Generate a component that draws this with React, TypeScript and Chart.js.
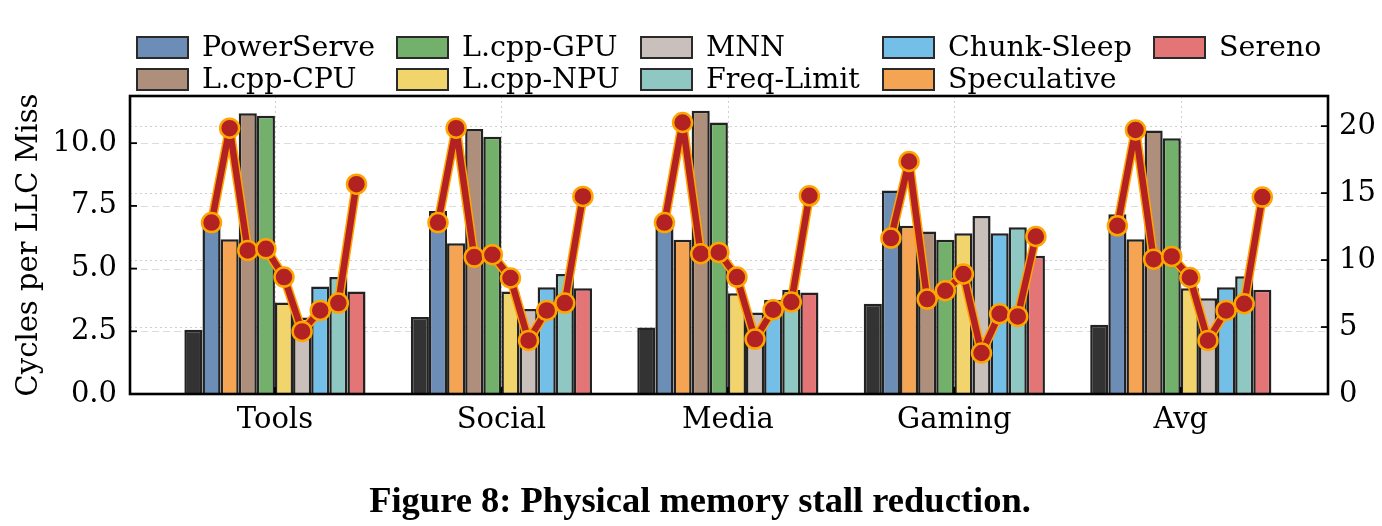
import React, { useEffect, useRef } from "react";
import { Chart, registerables } from "chart.js";

Chart.register(...registerables);

const categories = ["Tools", "Social", "Media", "Gaming", "Avg"];

const methods = [
  "Baseline",
  "PowerServe",
  "Speculative",
  "L.cpp-CPU",
  "L.cpp-GPU",
  "L.cpp-NPU",
  "MNN",
  "Chunk-Sleep",
  "Freq-Limit",
  "Sereno",
];

const methodColors = [
  "#333333",
  "#6b8db6",
  "#f4a452",
  "#ae8f7c",
  "#73b06b",
  "#f2d46c",
  "#c9c0bb",
  "#74bfe8",
  "#8fc7c3",
  "#e47577",
];

// Cycles per LLC miss (left axis), one array per method across categories
const baseline = [2.56, 3.07, 2.65, 3.6, 2.76];
const powerServe = [6.8, 7.3, 6.8, 8.11, 7.17];
const speculative = [6.17, 6.01, 6.15, 6.71, 6.17];
const lcppCpu = [11.19, 10.56, 11.29, 6.48, 10.5];
const lcppGpu = [11.09, 10.26, 10.82, 6.15, 10.2];
const lcppNpu = [3.65, 4.09, 4.02, 6.41, 4.22];
const mnn = [3.05, 3.39, 3.25, 7.1, 3.82];
const chunkSleep = [4.29, 4.26, 3.76, 6.41, 4.26];
const freqLimit = [4.66, 4.78, 4.16, 6.65, 4.69];
const sereno = [4.09, 4.22, 4.05, 5.51, 4.16];

const barSeries = [
  baseline,
  powerServe,
  speculative,
  lcppCpu,
  lcppGpu,
  lcppNpu,
  mnn,
  chunkSleep,
  freqLimit,
  sereno,
];

// Right-axis line, per category, over methods PowerServe .. Sereno
const toolsLine = [12.8, 19.85, 10.72, 10.84, 8.73, 4.67, 6.24, 6.79, 15.67];
const socialLine = [12.8, 19.85, 10.22, 10.4, 8.66, 4.0, 6.24, 6.79, 14.75];
const mediaLine = [12.8, 20.27, 10.47, 10.57, 8.73, 4.1, 6.29, 6.87, 14.8];
const gamingLine = [11.64, 17.36, 7.09, 7.71, 8.96, 3.06, 5.99, 5.79, 11.76];
const avgLine = [12.56, 19.72, 10.07, 10.27, 8.7, 4.0, 6.24, 6.74, 14.7];

const lineSeries = [toolsLine, socialLine, mediaLine, gamingLine, avgLine];

const leftTicksMax = 11.88;
const rightTicksMax = 22.25;
const xMin = -0.64;
const xMax = 4.65;

const legendOrder = [
  "PowerServe",
  "L.cpp-CPU",
  "L.cpp-GPU",
  "L.cpp-NPU",
  "MNN",
  "Freq-Limit",
  "Chunk-Sleep",
  "Speculative",
  "Sereno",
];

const FONT = "'DejaVu Serif', serif";
const CAT_PCT = 0.8;
const TICK_SIZE = 29;

const framePlugin = {
  id: "frameAndGrid",
  beforeDatasetsDraw(chart: any) {
    const { ctx, chartArea: a, scales } = chart;
    ctx.save();
    ctx.lineWidth = 1;
    ctx.strokeStyle = "#dcdcdc";
    ctx.setLineDash([7, 4]);
    scales.y.ticks.forEach((t: any) => {
      if (t.value === 0) return;
      const yy = Math.round(scales.y.getPixelForValue(t.value)) + 0.5;
      ctx.beginPath();
      ctx.moveTo(a.left, yy);
      ctx.lineTo(a.right, yy);
      ctx.stroke();
    });
    ctx.strokeStyle = "#cfcfcf";
    ctx.setLineDash([2, 3]);
    scales.y2.ticks.forEach((t: any) => {
      if (t.value === 0) return;
      const yy = Math.round(scales.y2.getPixelForValue(t.value)) + 0.5;
      ctx.beginPath();
      ctx.moveTo(a.left, yy);
      ctx.lineTo(a.right, yy);
      ctx.stroke();
    });
    scales.x.ticks.forEach((t: any) => {
      const xx = Math.round(scales.x.getPixelForValue(t.value)) + 0.5;
      ctx.beginPath();
      ctx.moveTo(xx, a.top);
      ctx.lineTo(xx, a.bottom);
      ctx.stroke();
    });
    ctx.restore();
  },
  afterDatasetsDraw(chart: any) {
    const { ctx, chartArea: a, scales } = chart;
    ctx.save();
    ctx.strokeStyle = "#000";
    ctx.lineWidth = 1.8;
    const L = 7;
    scales.y.ticks.forEach((t: any) => {
      const yy = scales.y.getPixelForValue(t.value);
      ctx.beginPath();
      ctx.moveTo(a.left, yy);
      ctx.lineTo(a.left + L, yy);
      ctx.stroke();
    });
    scales.y2.ticks.forEach((t: any) => {
      const yy = scales.y2.getPixelForValue(t.value);
      ctx.beginPath();
      ctx.moveTo(a.right, yy);
      ctx.lineTo(a.right - L, yy);
      ctx.stroke();
    });
    scales.x.ticks.forEach((t: any) => {
      const xx = scales.x.getPixelForValue(t.value);
      ctx.beginPath();
      ctx.moveTo(xx, a.bottom);
      ctx.lineTo(xx, a.bottom - L);
      ctx.stroke();
    });
    ctx.lineWidth = 2.6;
    ctx.strokeRect(a.left, a.top, a.right - a.left, a.bottom - a.top);
    ctx.restore();
  },
};

function barOffset(k: number) {
  const n = methods.length;
  return -CAT_PCT / 2 + (k + 0.5) * (CAT_PCT / n);
}

export default function App() {
  const canvasRef = useRef<HTMLCanvasElement | null>(null);

  useEffect(() => {
    if (!canvasRef.current) return;

    const barDatasets = methods.map((m, k) => ({
      type: "bar" as const,
      label: m,
      data: barSeries[k].map((v, i) => ({ x: i, y: v })),
      backgroundColor: methodColors[k],
      borderColor: "#222222",
      borderWidth: 2.5,
      borderSkipped: "bottom",
      categoryPercentage: CAT_PCT,
      barPercentage: 1.0,
      xAxisID: "x",
      yAxisID: "y",
      order: 3,
    }));

    const haloDatasets = lineSeries.map((vals, i) => ({
      type: "line" as const,
      label: categories[i] + " halo",
      data: vals.map((v, j) => ({ x: i + barOffset(j + 1), y: v })),
      borderColor: "#ffa500",
      borderWidth: 9.5,
      borderJoinStyle: "round",
      borderCapStyle: "round",
      pointRadius: 0,
      fill: false,
      tension: 0,
      xAxisID: "x",
      yAxisID: "y2",
      order: 2,
    }));

    const mainLineDatasets = lineSeries.map((vals, i) => ({
      type: "line" as const,
      label: categories[i],
      data: vals.map((v, j) => ({ x: i + barOffset(j + 1), y: v })),
      borderColor: "#b22222",
      borderWidth: 6.5,
      borderJoinStyle: "round",
      borderCapStyle: "round",
      pointRadius: 9.5,
      pointBackgroundColor: "#b22222",
      pointBorderColor: "#ffa500",
      pointBorderWidth: 2.5,
      fill: false,
      tension: 0,
      xAxisID: "x",
      yAxisID: "y2",
      order: 1,
    }));

    const chart = new Chart(canvasRef.current, {
      type: "bar",
      data: {
        datasets: [...barDatasets, ...haloDatasets, ...mainLineDatasets] as any,
      },
      options: {
        animation: false,
        responsive: false,
        devicePixelRatio: 1,
        layout: { padding: { top: 96, left: 0, right: 0, bottom: 0 } },
        font: { family: FONT },
        plugins: {
          legend: { display: false },
          tooltip: { enabled: false },
          title: { display: false },
        },
        scales: {
          x: {
            type: "linear",
            min: xMin,
            max: xMax,
            offset: false,
            grid: { display: false, drawTicks: false },
            border: { display: false },
            afterBuildTicks: (scale: any) => {
              scale.ticks = categories.map((_, i) => ({ value: i }));
            },
            afterFit: (scale: any) => {
              scale.height = 132;
            },
            ticks: {
              autoSkip: false,
              maxRotation: 0,
              padding: 9,
              color: "#000",
              font: { family: FONT, size: TICK_SIZE },
              callback: (v: any) => categories[v as number] ?? "",
            },
          },
          y: {
            type: "linear",
            position: "left",
            min: 0,
            max: leftTicksMax,
            grid: { display: false, drawTicks: false },
            border: { display: false },
            afterFit: (scale: any) => {
              scale.width = 130;
            },
            title: {
              display: true,
              text: "Cycles per LLC Miss",
              color: "#000",
              font: { family: FONT, size: TICK_SIZE },
              padding: { top: 12, bottom: 0 },
            },
            ticks: {
              stepSize: 2.5,
              includeBounds: false,
              padding: 13,
              color: "#000",
              font: { family: FONT, size: TICK_SIZE },
              callback: (v: any) => Number(v).toFixed(1),
            },
          },
          y2: {
            type: "linear",
            position: "right",
            min: 0,
            max: rightTicksMax,
            grid: { display: false, drawTicks: false },
            border: { display: false },
            afterFit: (scale: any) => {
              scale.width = 54;
            },
            ticks: {
              stepSize: 5,
              includeBounds: false,
              padding: 11,
              color: "#000",
              font: { family: FONT, size: TICK_SIZE },
              callback: (v: any) => String(v),
            },
          },
        },
      } as any,
      plugins: [framePlugin],
    });

    return () => chart.destroy();
  }, []);

  const colorOf = (name: string) => methodColors[methods.indexOf(name)];

  return (
    <div
      style={{
        position: "absolute",
        left: 0,
        top: 0,
        width: 1382,
        height: 526,
        background: "#fff",
        overflow: "hidden",
      }}
    >
      <canvas
        ref={canvasRef}
        width={1382}
        height={526}
        style={{ position: "absolute", left: 0, top: 0, width: 1382, height: 526 }}
      />
      <div
        style={{
          position: "absolute",
          left: 136,
          top: 31,
          display: "grid",
          gridTemplateRows: "32px 32px",
          gridTemplateColumns: "260px 244px 242px 271px auto",
          gridAutoFlow: "column",
          fontFamily: FONT,
          fontSize: 28.5,
          color: "#000",
          lineHeight: "32px",
        }}
      >
        {legendOrder.map((name) => (
          <div key={name} style={{ display: "flex", alignItems: "center", whiteSpace: "nowrap" }}>
            <span
              style={{
                display: "inline-block",
                width: 49,
                height: 19,
                background: colorOf(name),
                border: "2px solid #2a2a2a",
                marginRight: 13,
              }}
            />
            <span>{name}</span>
          </div>
        ))}
      </div>
      <div
        style={{
          position: "absolute",
          left: 700,
          top: 481,
          transform: "translateX(-50%)",
          whiteSpace: "nowrap",
          fontFamily: "'Liberation Serif', 'Times New Roman', serif",
          fontWeight: "bold",
          fontSize: 36.5,
          lineHeight: "38px",
          color: "#000",
        }}
      >
        Figure 8: Physical memory stall reduction.
      </div>
    </div>
  );
}
